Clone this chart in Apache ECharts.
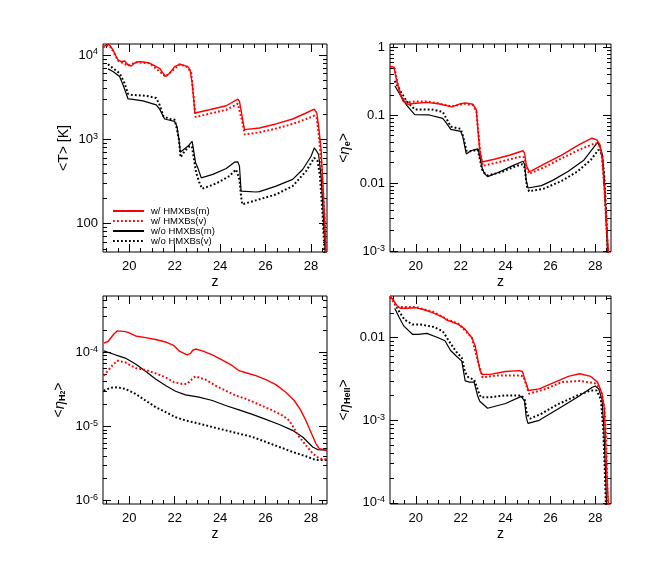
<!DOCTYPE html>
<html>
<head>
<meta charset="utf-8">
<title>HMXB averages</title>
<script src="https://cdn.jsdelivr.net/npm/echarts@6/dist/echarts.min.js"></script>
<style>
html, body { margin: 0; padding: 0; background: #fff; }
#chart { width: 664px; height: 574px; }
</style>
</head>
<body>
<div id="chart"></div>
<script>
// redshift axis (shared by all panels)
const zRange = [18.85, 28.7];
const zTicks = [20, 22, 24, 26, 28];
const zMinorTicks = [19, 19.5, 20.5, 21, 21.5, 22.5, 23, 23.5, 24.5, 25, 25.5, 26.5, 27, 27.5, 28.5];

const seriesNames = ['w/ HMXBs(m)', 'w/ HMXBs(v)', 'w/o HMXBs(m)', 'w/o HMXBs(v)'];

// panel 1: <T> [K]
const tRange = [46, 13500];
const tTicks = [100, 1000, 10000];
const tTickLabels = ['100', '10{sup|3}', '10{sup|4}'];
const tRedM = [[18.85, 12540], [19.11, 13490], [19.29, 11460], [19.51, 8730], [19.65, 8340], [19.80, 8490], [19.95, 7620], [20.09, 7410], [20.24, 7980], [20.39, 8340], [20.61, 8270], [20.83, 8110], [21.05, 7620], [21.34, 6960], [21.60, 5550], [21.78, 6070], [22.00, 7280], [22.22, 7760], [22.44, 7480], [22.58, 7280], [22.68, 6660], [22.77, 4620], [22.83, 3220], [22.89, 2050], [22.95, 2050], [23.53, 2240], [24.27, 2500], [24.78, 2990], [24.85, 2810], [24.97, 1870], [25.07, 1300], [25.14, 1280], [25.73, 1360], [26.46, 1520], [27.19, 1740], [27.78, 2050], [28.14, 2280], [28.25, 2050], [28.33, 1430], [28.44, 755], [28.51, 334], [28.59, 123], [28.66, 40]];
const tRedV = [[18.85, 12320], [19.11, 13130], [19.29, 11150], [19.51, 8570], [19.95, 7480], [20.28, 8190], [20.90, 7980], [21.60, 5550], [22.22, 7760], [22.58, 7150], [22.73, 6070], [22.83, 3220], [22.92, 1840], [23.53, 2010], [24.27, 2240], [24.78, 2640], [24.85, 2560], [24.97, 1630], [25.08, 1140], [25.73, 1210], [26.46, 1340], [27.19, 1520], [27.78, 1740], [28.14, 1900], [28.25, 1800], [28.36, 990], [28.48, 400], [28.59, 123], [28.66, 40]];
const tBlackM = [[19.07, 6840], [19.29, 6360], [19.58, 5550], [19.76, 4220], [19.95, 3020], [20.09, 2990], [20.61, 2860], [21.19, 2560], [21.34, 2280], [21.56, 1740], [21.78, 1680], [22.00, 1630], [22.10, 1430], [22.19, 990], [22.25, 702], [22.36, 741], [22.58, 826], [22.77, 946], [22.83, 755], [22.92, 525], [23.02, 458], [23.17, 349], [23.68, 383], [24.27, 450], [24.63, 535], [24.78, 540], [24.85, 480], [24.89, 334], [24.92, 243], [25.00, 243], [25.58, 237], [25.73, 239], [26.46, 278], [27.19, 334], [27.63, 438], [28.00, 629], [28.14, 790], [28.25, 720], [28.33, 659], [28.44, 366], [28.54, 123], [28.63, 40]];
const tBlackV = [[19.07, 7760], [19.29, 6960], [19.58, 6070], [19.80, 4620], [19.95, 3460], [20.09, 3370], [20.75, 3280], [21.19, 3080], [21.34, 2560], [21.51, 1870], [21.78, 1740], [22.00, 1710], [22.07, 1430], [22.19, 990], [22.26, 612], [22.44, 722], [22.66, 826], [22.76, 826], [22.83, 629], [22.95, 400], [23.09, 305], [23.21, 259], [23.83, 299], [24.41, 366], [24.70, 438], [24.78, 438], [24.85, 334], [24.92, 212], [24.97, 169], [25.73, 194], [26.46, 222], [27.19, 278], [27.78, 419], [28.14, 602], [28.29, 550], [28.39, 366], [28.51, 123], [28.60, 40]];

// panel 2: <eta_e>
const eRange = [0.00097, 1.12];
const eTicks = [0.001, 0.01, 0.1, 1];
const eTickLabels = ['10{sup|-3}', '0.01', '0.1', '1'];
const eRedM = [[18.85, 0.53], [19.03, 0.51], [19.14, 0.33], [19.29, 0.21], [19.44, 0.16], [19.65, 0.145], [20.0, 0.15], [20.5, 0.155], [21.0, 0.148], [21.6, 0.133], [22.0, 0.148], [22.2, 0.152], [22.55, 0.145], [22.7, 0.12], [22.77, 0.06], [22.85, 0.031], [22.95, 0.0205], [23.5, 0.0225], [24.2, 0.026], [24.78, 0.030], [24.85, 0.0276], [24.92, 0.0186], [25.05, 0.0149], [25.15, 0.0152], [25.8, 0.0197], [26.52, 0.0261], [27.26, 0.0366], [27.85, 0.0459], [28.07, 0.0434], [28.21, 0.0366], [28.32, 0.022], [28.41, 0.008], [28.49, 0.0029], [28.58, 0.001], [28.62, 0.0005]];
const eRedV = [[18.85, 0.52], [19.06, 0.49], [19.17, 0.31], [19.39, 0.18], [19.61, 0.155], [20.0, 0.16], [20.5, 0.16], [21.0, 0.15], [21.6, 0.135], [22.2, 0.148], [22.55, 0.14], [22.7, 0.115], [22.8, 0.05], [22.88, 0.027], [22.99, 0.018], [23.58, 0.020], [24.69, 0.0247], [24.83, 0.024], [24.94, 0.0172], [25.05, 0.0137], [25.79, 0.0176], [26.52, 0.0233], [27.26, 0.0309], [28.0, 0.0388], [28.17, 0.0366], [28.29, 0.0247], [28.41, 0.008], [28.55, 0.001], [28.6, 0.0005]];
const eBlackM = [[19.07, 0.27], [19.3, 0.2], [19.6, 0.14], [19.95, 0.102], [20.6, 0.101], [21.2, 0.09], [21.35, 0.078], [21.56, 0.062], [22.0, 0.058], [22.1, 0.048], [22.25, 0.027], [22.45, 0.030], [22.77, 0.032], [22.85, 0.025], [22.95, 0.017], [23.05, 0.014], [23.2, 0.0125], [23.7, 0.0145], [24.3, 0.018], [24.78, 0.021], [24.85, 0.019], [24.92, 0.011], [25.0, 0.0085], [25.6, 0.0092], [26.1, 0.011], [26.8, 0.015], [27.5, 0.022], [28.1, 0.04], [28.2, 0.035], [28.32, 0.026], [28.4, 0.011], [28.48, 0.0032], [28.55, 0.001], [28.6, 0.0005]];
const eBlackV = [[19.06, 0.32], [19.3, 0.23], [19.6, 0.16], [19.95, 0.122], [20.7, 0.122], [21.2, 0.112], [21.4, 0.085], [21.56, 0.068], [22.0, 0.063], [22.1, 0.05], [22.26, 0.03], [22.45, 0.0295], [22.76, 0.031], [22.85, 0.023], [22.95, 0.016], [23.1, 0.0135], [23.2, 0.013], [23.8, 0.0145], [24.4, 0.0175], [24.75, 0.019], [24.85, 0.017], [24.95, 0.009], [25.05, 0.0076], [25.7, 0.0083], [26.5, 0.0108], [27.2, 0.0148], [27.8, 0.022], [28.14, 0.031], [28.3, 0.027], [28.4, 0.013], [28.48, 0.004], [28.55, 0.001], [28.6, 0.0005]];

// panel 3: <eta_H2>
const hRange = [9.0e-7, 5.7e-4];
const hTicks = [1e-6, 1e-5, 1e-4];
const hTickLabels = ['10{sup|-6}', '10{sup|-5}', '10{sup|-4}'];
const hRedM = [[18.88, 1.32e-4], [19.07, 1.39e-4], [19.32, 1.74e-4], [19.47, 1.93e-4], [19.83, 1.89e-4], [19.98, 1.83e-4], [20.28, 1.65e-4], [20.72, 1.57e-4], [21.16, 1.48e-4], [21.6, 1.37e-4], [21.97, 1.22e-4], [22.19, 1.04e-4], [22.41, 9.6e-5], [22.55, 9.2e-5], [22.7, 9.6e-5], [22.8, 1.06e-4], [22.92, 1.10e-4], [23.22, 1.04e-4], [23.66, 9.2e-5], [24.1, 7.8e-5], [24.54, 6.56e-5], [24.83, 5.62e-5], [25.13, 5.28e-5], [25.57, 4.82e-5], [26.01, 4.26e-5], [26.45, 3.65e-5], [26.89, 2.88e-5], [27.26, 2.23e-5], [27.55, 1.64e-5], [27.77, 1.20e-5], [27.99, 8.39e-6], [28.21, 5.86e-6], [28.36, 5.02e-6], [28.7, 4.77e-6]];
const hRedV = [[18.88, 4.82e-5], [19.07, 5.62e-5], [19.25, 6.56e-5], [19.47, 7.65e-5], [19.83, 7.27e-5], [20.28, 6.1e-5], [20.72, 5.74e-5], [21.16, 5.18e-5], [21.6, 4.58e-5], [21.97, 3.93e-5], [22.33, 3.73e-5], [22.55, 3.73e-5], [22.77, 4.35e-5], [22.92, 4.72e-5], [23.36, 4.26e-5], [23.8, 3.54e-5], [24.24, 3.03e-5], [24.69, 2.6e-5], [25.13, 2.35e-5], [25.71, 1.97e-5], [26.3, 1.64e-5], [26.74, 1.40e-5], [27.04, 1.20e-5], [27.26, 9.3e-6], [27.48, 7.2e-6], [27.77, 5.57e-6], [28.07, 4.31e-6], [28.36, 3.69e-6], [28.7, 3.58e-6]];
const hBlackM = [[18.88, 1.04e-4], [19.39, 9.2e-5], [19.83, 8.31e-5], [20.28, 6.9e-5], [20.72, 5.51e-5], [21.16, 4.35e-5], [21.6, 3.54e-5], [22.04, 2.97e-5], [22.48, 2.65e-5], [23.07, 2.47e-5], [23.66, 2.23e-5], [24.24, 1.91e-5], [24.83, 1.67e-5], [25.42, 1.45e-5], [26.01, 1.24e-5], [26.6, 1.06e-5], [27.18, 8.84e-6], [27.63, 7.2e-6], [28.07, 5.28e-6], [28.29, 4.87e-6], [28.7, 4.77e-6]];
const hBlackV = [[18.88, 3.03e-5], [19.17, 3.3e-5], [19.47, 3.37e-5], [19.83, 3.19e-5], [20.28, 2.74e-5], [20.72, 2.23e-5], [21.16, 1.82e-5], [21.6, 1.56e-5], [22.04, 1.33e-5], [22.48, 1.20e-5], [23.07, 1.09e-5], [23.66, 9.8e-6], [24.24, 8.84e-6], [24.83, 7.98e-6], [25.42, 7.2e-6], [26.01, 6.17e-6], [26.6, 5.28e-6], [27.18, 4.53e-6], [27.77, 3.96e-6], [28.21, 3.51e-6], [28.7, 3.51e-6]];

// panel 4: <eta_HeII>
const heRange = [9.7e-5, 0.032];
const heTicks = [1e-4, 1e-3, 0.01];
const heTickLabels = ['10{sup|-4}', '10{sup|-3}', '0.01'];
const heRedM = [[18.85, 0.032], [19.03, 0.0278], [19.17, 0.0242], [19.32, 0.0227], [19.6, 0.0227], [20.0, 0.0231], [20.3, 0.0221], [20.75, 0.0201], [21.2, 0.0178], [21.4, 0.0162], [21.6, 0.0156], [21.9, 0.0145], [22.2, 0.0126], [22.5, 0.0100], [22.65, 0.0079], [22.78, 0.0052], [22.85, 0.0041], [22.95, 0.0036], [23.3, 0.0036], [24.0, 0.0039], [24.6, 0.0040], [24.75, 0.0039], [24.88, 0.0030], [25.02, 0.0023], [25.5, 0.0024], [26.2, 0.0029], [26.8, 0.0034], [27.3, 0.00366], [27.8, 0.0034], [28.1, 0.0029], [28.3, 0.0021], [28.4, 0.0014], [28.45, 0.0007], [28.5, 0.00027], [28.58, 0.0001], [28.62, 0.00005]];
const heRedV = [[18.85, 0.031], [19.17, 0.0235], [19.4, 0.0235], [20.0, 0.0235], [20.75, 0.0207], [21.4, 0.0167], [21.9, 0.0148], [22.5, 0.0100], [22.78, 0.0050], [22.98, 0.0033], [23.6, 0.0035], [24.6, 0.0035], [24.8, 0.0034], [24.9, 0.0028], [25.05, 0.0021], [25.8, 0.0024], [26.5, 0.0029], [27.3, 0.0030], [28.0, 0.0028], [28.25, 0.0023], [28.41, 0.0014], [28.48, 0.0007], [28.55, 0.0001], [28.6, 0.00005]];
const heBlackM = [[19.06, 0.0227], [19.25, 0.0178], [19.47, 0.0138], [19.85, 0.0110], [20.1, 0.0110], [20.5, 0.0113], [21.0, 0.0100], [21.3, 0.0092], [21.55, 0.0070], [21.8, 0.0060], [22.05, 0.0052], [22.2, 0.0030], [22.4, 0.0029], [22.6, 0.0029], [22.75, 0.0020], [22.85, 0.0017], [23.2, 0.0014], [24.0, 0.0016], [24.7, 0.00195], [24.85, 0.0017], [24.92, 0.0011], [25.0, 0.00092], [25.5, 0.0010], [26.3, 0.00135], [27.2, 0.0019], [27.85, 0.0025], [28.0, 0.0026], [28.15, 0.0024], [28.3, 0.0018], [28.38, 0.0008], [28.45, 0.00026], [28.5, 0.0001], [28.55, 0.00005]];
const heBlackV = [[19.06, 0.026], [19.25, 0.021], [19.5, 0.0165], [19.85, 0.0145], [20.2, 0.0145], [20.8, 0.0135], [21.2, 0.0120], [21.55, 0.0085], [21.8, 0.0068], [22.05, 0.0057], [22.2, 0.0038], [22.35, 0.0033], [22.6, 0.0031], [22.8, 0.0022], [22.9, 0.0019], [23.3, 0.0019], [24.0, 0.0020], [24.7, 0.0020], [24.85, 0.0018], [24.95, 0.0012], [25.1, 0.00105], [25.6, 0.0012], [26.3, 0.00155], [27.2, 0.0020], [27.8, 0.0023], [28.05, 0.0023], [28.25, 0.0018], [28.35, 0.0008], [28.42, 0.00026], [28.47, 0.0001], [28.52, 0.00005]];

const FONT = 'Liberation Sans, Arial, Helvetica, sans-serif';

const panels = [
    { grid: { left: 103, top: 44, width: 224, height: 208 }, range: tRange, ticks: tTicks, labels: tTickLabels,
      name: '<T> [K]', nameGap: 32, data: [tRedM, tRedV, tBlackM, tBlackV] },
    { grid: { left: 390, top: 44, width: 221, height: 208 }, range: eRange, ticks: eTicks, labels: eTickLabels,
      name: '<{eta|η}{sub|e}>', nameGap: 38, data: [eRedM, eRedV, eBlackM, eBlackV] },
    { grid: { left: 103, top: 296, width: 224, height: 208 }, range: hRange, ticks: hTicks, labels: hTickLabels,
      name: '<{eta|η}{sub|H}{sub2|2}>', nameGap: 36, data: [hRedM, hRedV, hBlackM, hBlackV] },
    { grid: { left: 390, top: 296, width: 221, height: 208 }, range: heRange, ticks: heTicks, labels: heTickLabels,
      name: '<{eta|η}{sub|HeII}>', nameGap: 38, data: [heRedM, heRedV, heBlackM, heBlackV] }
];

// minor ticks of a log axis at 2..9 x 10^n
function logMinors(range) {
    var out = [];
    for (var e = Math.floor(Math.log10(range[0])); e <= Math.ceil(Math.log10(range[1])); e++) {
        for (var m = 2; m <= 9; m++) {
            var v = m * Math.pow(10, e);
            if (v > range[0] && v < range[1]) out.push(v);
        }
    }
    return out;
}

var grids = [], xAxes = [], yAxes = [], series = [];
var styles = [
    { color: '#ff0000', width: 1.4, type: 'solid' },
    { color: '#ff0000', width: 2, type: [1.8, 2.2] },
    { color: '#000000', width: 1.2, type: 'solid' },
    { color: '#000000', width: 2, type: [1.8, 2.2] }
];

panels.forEach(function (p, g) {
    grids.push(Object.assign({ show: true, borderColor: '#000', borderWidth: 1, backgroundColor: 'transparent' }, p.grid));

    var xBase = { type: 'value', gridIndex: g, min: zRange[0], max: zRange[1],
        axisLine: { show: false, onZero: false }, splitLine: { show: false } };
    var tickMajor = { inside: true, length: 8, lineStyle: { color: '#000', width: 1 } };
    var tickMinor = { inside: true, length: 4, lineStyle: { color: '#000', width: 1 } };
    var xStart = xAxes.length;
    ['bottom', 'top'].forEach(function (pos) {
        xAxes.push(Object.assign({}, xBase, {
            position: pos,
            name: pos === 'bottom' ? 'z' : '',
            nameLocation: 'middle', nameGap: 23,
            nameTextStyle: { color: '#000', fontSize: 14, fontFamily: FONT },
            axisTick: Object.assign({ customValues: zTicks }, tickMajor),
            axisLabel: { show: pos === 'bottom', customValues: zTicks, margin: 8, color: '#000', fontSize: 13, fontFamily: FONT }
        }));
        xAxes.push(Object.assign({}, xBase, {
            position: pos,
            axisTick: Object.assign({ customValues: zMinorTicks }, tickMinor),
            axisLabel: { show: false }
        }));
    });

    var yBase = { type: 'log', logBase: 10, gridIndex: g, min: p.range[0], max: p.range[1],
        axisLine: { show: false, onZero: false }, splitLine: { show: false } };
    var minors = logMinors(p.range);
    var yStart = yAxes.length;
    ['left', 'right'].forEach(function (pos) {
        yAxes.push(Object.assign({}, yBase, {
            position: pos,
            name: pos === 'left' ? p.name : '',
            nameLocation: 'middle', nameRotate: 90, nameGap: p.nameGap,
            nameTextStyle: { color: '#000', fontSize: 14, fontFamily: FONT,
                rich: { eta: { fontSize: 15, fontStyle: 'italic', fontFamily: FONT },
                        sub: { fontSize: 9, fontWeight: 'bold', verticalAlign: 'bottom', fontFamily: FONT },
                        sub2: { fontSize: 7, fontWeight: 'bold', verticalAlign: 'bottom', fontFamily: FONT } } },
            axisTick: Object.assign({ customValues: p.ticks }, tickMajor),
            axisLabel: { show: pos === 'left', customValues: p.ticks, margin: 5, color: '#000', fontSize: 13, fontFamily: FONT,
                formatter: function (v) {
                    var i = p.ticks.findIndex(function (t) { return Math.abs(Math.log10(t / v)) < 1e-6; });
                    return i >= 0 ? p.labels[i] : '';
                },
                rich: { sup: { fontSize: 9, verticalAlign: 'top', fontFamily: FONT, padding: [0, 0, 6, 0] } } }
        }));
        yAxes.push(Object.assign({}, yBase, {
            position: pos,
            axisTick: Object.assign({ customValues: minors }, tickMinor),
            axisLabel: { show: false }
        }));
    });

    p.data.forEach(function (d, k) {
        series.push({
            name: seriesNames[k], type: 'line', xAxisIndex: xStart, yAxisIndex: yStart,
            data: d, symbol: 'none', showSymbol: false, clip: true,
            lineStyle: styles[k], itemStyle: { color: styles[k].color }, z: 10 - k
        });
    });
});

var chart = echarts.init(document.getElementById('chart'));
chart.setOption({
    backgroundColor: '#fff',
    animation: false,
    grid: grids,
    xAxis: xAxes,
    yAxis: yAxes,
    legend: {
        data: seriesNames, orient: 'vertical', left: 107, top: 201,
        itemWidth: 31, itemHeight: 10, itemGap: 0,
        itemStyle: { opacity: 0 },
        textStyle: { color: '#000', fontSize: 9.5, fontFamily: FONT, lineHeight: 10, padding: [0, 0, 0, 2] }
    },
    series: series
});
</script>
</body>
</html>
